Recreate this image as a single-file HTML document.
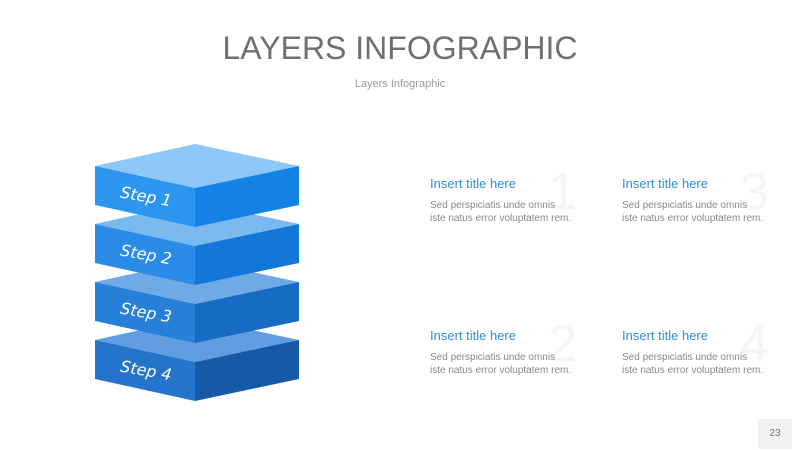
<!DOCTYPE html>
<html><head><meta charset="utf-8"><style>
body{margin:0;width:800px;height:450px;background:#fff;font-family:"Liberation Sans",sans-serif;position:relative;overflow:hidden}
.t{position:absolute;left:0;width:800px;text-align:center}
.blk{position:absolute;width:170px}
.blk h3{margin:0;font-weight:normal;font-size:13px;color:#2d8fd8}
.blk p{margin:8px 0 0;font-size:10px;line-height:13px;color:#888}
.num{position:absolute;font-size:52px;color:#f5f5f5;font-weight:300}
</style></head><body>
<div class="t" style="top:30px;font-size:32px;color:#707070">LAYERS INFOGRAPHIC</div>
<div class="t" style="top:78px;font-size:11px;color:#999">Layers Infographic</div>
<svg width="800" height="450" style="position:absolute;left:0;top:0">
<g transform="translate(0,174)">
<polygon points="195,144 299,166 195,188 95,166" fill="#5f9ce0"/>
<polygon points="95,166 195,188 195,227 95,205" fill="#2474cc"/>
<polygon points="195,188 299,166 299,205 195,227" fill="#1559a8"/>
<text x="146" y="202" transform="rotate(10 146 197)" text-anchor="middle" font-size="16" font-style="italic" fill="#fff" font-family="DejaVu Sans, sans-serif">Step 4</text>
</g>
<g transform="translate(0,116)">
<polygon points="195,144 299,166 195,188 95,166" fill="#6fa9e6"/>
<polygon points="95,166 195,188 195,227 95,205" fill="#2780d8"/>
<polygon points="195,188 299,166 299,205 195,227" fill="#176bc2"/>
<text x="146" y="202" transform="rotate(10 146 197)" text-anchor="middle" font-size="16" font-style="italic" fill="#fff" font-family="DejaVu Sans, sans-serif">Step 3</text>
</g>
<g transform="translate(0,58)">
<polygon points="195,144 299,166 195,188 95,166" fill="#7ab8f0"/>
<polygon points="95,166 195,188 195,227 95,205" fill="#2a8ce6"/>
<polygon points="195,188 299,166 299,205 195,227" fill="#1277d8"/>
<text x="146" y="202" transform="rotate(10 146 197)" text-anchor="middle" font-size="16" font-style="italic" fill="#fff" font-family="DejaVu Sans, sans-serif">Step 2</text>
</g>
<g>
<polygon points="195,144 299,166 195,188 95,166" fill="#8ec8f8"/>
<polygon points="95,166 195,188 195,227 95,205" fill="#2d96ef"/>
<polygon points="195,188 299,166 299,205 195,227" fill="#1482e4"/>
<text x="146" y="202" transform="rotate(10 146 197)" text-anchor="middle" font-size="16" font-style="italic" fill="#fff" font-family="DejaVu Sans, sans-serif">Step 1</text>
</g>
</svg>
<div class="num" style="left:548px;top:162px">1</div>
<div class="num" style="left:740px;top:162px">3</div>
<div class="num" style="left:548px;top:314px">2</div>
<div class="num" style="left:740px;top:314px">4</div>
<div class="blk" style="left:430px;top:176px"><h3>Insert title here</h3><p>Sed perspiciatis unde omnis<br>iste natus error voluptatem rem.</p></div>
<div class="blk" style="left:622px;top:176px"><h3>Insert title here</h3><p>Sed perspiciatis unde omnis<br>iste natus error voluptatem rem.</p></div>
<div class="blk" style="left:430px;top:328px"><h3>Insert title here</h3><p>Sed perspiciatis unde omnis<br>iste natus error voluptatem rem.</p></div>
<div class="blk" style="left:622px;top:328px"><h3>Insert title here</h3><p>Sed perspiciatis unde omnis<br>iste natus error voluptatem rem.</p></div>
<div style="position:absolute;left:758px;top:419px;width:34px;height:30px;background:#f2f2f2;color:#777;font-size:10px;text-align:center;line-height:30px">23</div>
</body></html>
